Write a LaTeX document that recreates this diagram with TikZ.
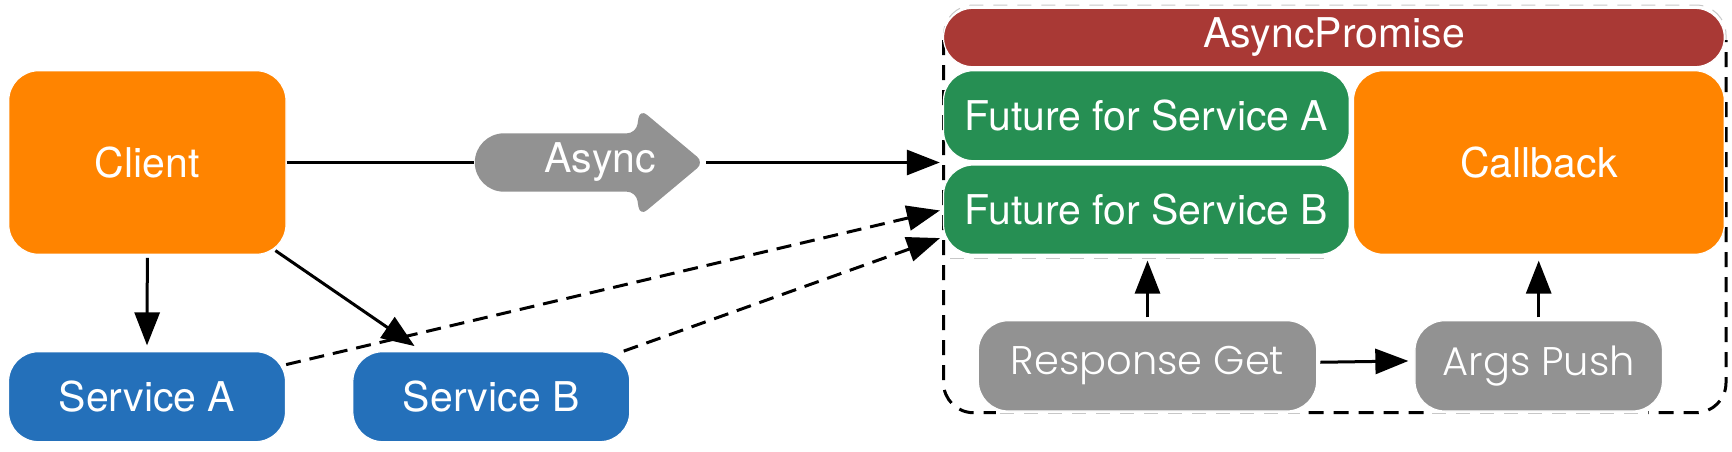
\documentclass[tikz,border=0pt]{standalone}
\usepackage{fontspec}
\setmainfont{TeX Gyre Heros}
\newfontfamily\gothic{Poppins}[UprightFont=* Light]
\usetikzlibrary{arrows.meta,calc}
\definecolor{corange}{HTML}{FF8400}
\definecolor{cblue}{HTML}{2470BA}
\definecolor{cgreen}{HTML}{268F53}
\definecolor{cred}{HTML}{A93935}
\definecolor{cgray}{HTML}{929292}
\tikzset{
  box/.style={draw=white, line width=1.2pt, text=white, inner sep=0pt,
    rounded corners=30pt, font=\fontsize{41}{48}\selectfont},
  gbox/.style={box, fill=cgray, font=\gothic\fontsize{40}{46}\selectfont},
  conn/.style={line width=3pt, black},
  arr/.style={conn, -{Triangle[length=33pt,width=25pt]}},
  darr/.style={arr, dash pattern=on 15pt off 9pt},
  faint/.style={line width=1pt, black!22, dash pattern=on 14pt off 10pt}
}
\begin{document}
\begin{tikzpicture}[x=1pt,y=-1pt]
\useasboundingbox (0,0) rectangle (1732,451);
% container (reference node, drawn by paths)
\node[inner sep=0pt, minimum width=782.5pt, minimum height=407.7pt] (cont) at (1334.75,208.85) {};
\draw[conn, dash pattern=on 15pt off 10pt, rounded corners=30pt]
  (943.5,40) -- (943.5,412.7) -- (1726,412.7) -- (1726,40);
\fill[white] (996,410) rectangle (1300,416);
\fill[white] (1432,410) rectangle (1648,416);
\draw[faint] (1000,413.3) -- (1300,413.3);
\draw[faint] (1432,413.3) -- (1648,413.3);
\draw[faint, rounded corners=30pt] (943.5,40) -- (943.5,5) -- (1726,5) -- (1726,40);
\draw[faint] (950,258.3) -- (1330,258.3);
% nodes
\node[box, fill=corange, minimum width=277.3pt, minimum height=183.6pt] (client) at (147.35,162.5) {Client};
\node[box, fill=cblue, minimum width=277pt, minimum height=90pt] (sa) at (147,396.7) {Service A};
\node[box, fill=cblue, minimum width=277pt, minimum height=90pt] (sb) at (491.3,396.7) {Service B};
\node[box, fill=cred, rounded corners=29.2pt, minimum width=780.8pt, minimum height=58.4pt] (ap0) at (1333.9,37.5) {AsyncPromise};
\node[box, fill=cgreen, minimum width=405.8pt, minimum height=90pt] (fa) at (1146.4,115.7) {Future for Service A};
\node[box, fill=cgreen, minimum width=405.8pt, minimum height=89.3pt] (fb) at (1146.4,209.65) {Future for Service B};
\node[box, fill=corange, minimum width=370.9pt, minimum height=183.6pt] (cb) at (1538.85,162.5) {Callback};
\node[gbox, minimum width=338.4pt, minimum height=90.3pt] (rg) at (1147.5,365.85) {Response Get};
\node[gbox, minimum width=247.5pt, minimum height=90.3pt] (apush) at (1538.7,365.85) {Args Push};
% async shape
\fill[cgray] (504,133.3) [rounded corners=9pt] -- (636,133.3) -- (640,109) -- (704,162.5)
  -- (640,216) -- (636,191.7) [sharp corners] -- (504,191.7)
  arc[start angle=90, end angle=270, radius=29.2] -- cycle;
\node[text=white, inner sep=0pt, font=\fontsize{41}{48}\selectfont] (async) at (600,162.5) {Async};
\coordinate (asyncL) at (474,162.5);
\coordinate (asyncR) at (706,162.5);
% connectors
\draw[conn] (client.east) -- (asyncL);
\draw[arr, shorten >=3.5pt] (asyncR) -- (cont.west |- asyncR);
\draw[arr, shorten <=3pt, shorten >=5.7pt] (client.south) -- (sa.north);
\draw[arr] ($(client.south east)+(-11.2,-4.3)$) -- ($(sb.north west)+(62.4,-5)$);
\draw[darr, shorten >=3.5pt] (sa.13) -- (cont.west |- fb.west);
\draw[darr, shorten >=3.5pt] (sb.19) -- ($(cont.west |- fb.south)+(0,-18)$);
\draw[arr, shorten <=2.7pt, shorten >=5.7pt] (rg.north) -- (rg.north |- fb.south);
\draw[arr, shorten <=2.7pt, shorten >=5.7pt] (apush.north) -- (apush.north |- cb.south);
\draw[arr] ($(rg.east)+(3,-3.6)$) -- ($(apush.west)+(-6,-4.9)$);
\end{tikzpicture}
\end{document}
